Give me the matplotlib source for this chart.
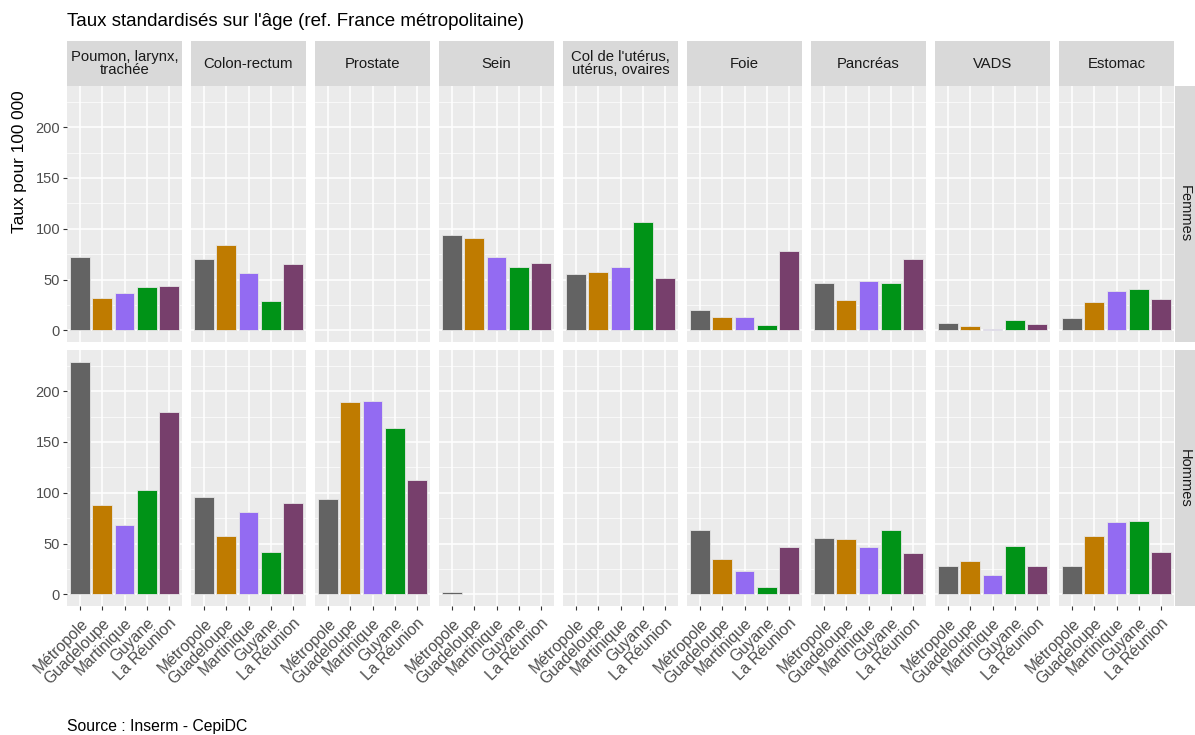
# Taux standardisés de mortalité par cancer, DOM vs métropole
# %% Imports
import numpy as np
from matplotlib import pyplot as plt

plt.rcParams['font.family'] = ['Liberation Sans', 'DejaVu Sans']

# %% Data
territoires = ["Métropole", "Guadeloupe", "Martinique", "Guyane", "La Réunion"]
couleurs = ["#636363", "#BF7B00", "#936BF2", "#009317", "#773F6C"]
cancers = ["Poumon, larynx,\ntrachée", "Colon-rectum", "Prostate", "Sein",
           "Col de l'utérus,\nutérus, ovaires", "Foie", "Pancréas", "VADS", "Estomac"]
sexes = ["Femmes", "Hommes"]
nan = np.nan
# one row per cancer, one value per territoire
femmes = [
    [72, 32, 37, 43, 44],
    [70, 84, 56, 29, 65],
    [nan, nan, nan, nan, nan],
    [94, 91, 72, 62, 66],
    [55, 57, 62, 107, 52],
    [20.5, 13, 13, 5.5, 78],
    [47, 30, 49, 47, 70.5],
    [7, 4.5, 1, 10.5, 6],
    [12, 27.5, 39, 40.5, 31],
]
hommes = [
    [229, 87.7, 68, 103, 179],
    [96, 57.4, 81.5, 42, 90],
    [93.7, 189.7, 190.7, 163.4, 113],
    [2, nan, nan, nan, nan],
    [nan, nan, nan, nan, nan],
    [63, 34.5, 22.5, 7.5, 47],
    [55, 54, 47, 63.4, 41],
    [27.7, 32.7, 19, 47.8, 27.7],
    [27.7, 57.4, 71, 72, 42],
]
titre = "Taux standardisés sur l'âge (ref. France métropolitaine)"
source = "Source : Inserm - CepiDC"
ylabel = "Taux pour 100 000"

# %% Layout (pixels)
W, H = 1195, 735
fig = plt.figure(figsize=(W / 100, H / 100), dpi=100)


def px_axes(x0, y0, w, h):
    return fig.add_axes([x0 / W, 1 - (y0 + h) / H, w / W, h / H])


left, pw, gap = 67, 115, 9
row_top = [86, 350]
ph = 256
strip_top, strip_h = 41, 45
vmax = np.nanmax(np.array(femmes + hommes))
ylim = (-0.05 * vmax, 1.05 * vmax)
x = np.arange(len(territoires))
data = [femmes, hommes]
txt_col = "#4D4D4D"

# %% Panels
for r, sexe in enumerate(sexes):
    for c, cancer in enumerate(cancers):
        x0 = left + c * (pw + gap)
        ax = px_axes(x0, row_top[r], pw, ph)
        ax.set_facecolor("#EBEBEB")
        vals = np.array(data[r][c], dtype=float)
        ax.bar(x, np.nan_to_num(vals), width=0.9, color=couleurs,
               edgecolor="#E6E6E6", linewidth=0.6, zorder=3)
        # hide empty bars
        for patch, v in zip(ax.patches, vals):
            if np.isnan(v):
                patch.set_visible(False)
        ax.set_xlim(-0.6, len(territoires) - 0.4)
        ax.set_ylim(*ylim)
        ax.set_yticks([0, 50, 100, 150, 200])
        ax.set_yticks([25, 75, 125, 175, 225], minor=True)
        ax.set_xticks(x)
        ax.grid(True, which="major", color="white", linewidth=1.1, zorder=0)
        ax.grid(True, which="minor", axis="y", color="white", linewidth=0.5, zorder=0)
        for s in ax.spines.values():
            s.set_visible(False)
        ax.tick_params(which="minor", length=0)
        ax.tick_params(which="major", length=3, color="#333333", width=0.8,
                       labelsize=10.5, labelcolor=txt_col, pad=2)
        if c == 0:
            ax.tick_params(axis="y", left=True, labelleft=True)
        else:
            ax.tick_params(axis="y", left=False, labelleft=False)
        if r == 1:
            ax.set_xticklabels(territoires, rotation=45, ha="right", va="top",
                               rotation_mode="anchor", fontsize=11.3)
            ax.tick_params(axis="x", pad=4)
        else:
            ax.tick_params(axis="x", bottom=False, labelbottom=False)
        # column strip
        if r == 0:
            sx = px_axes(x0, strip_top, pw, strip_h)
            sx.set_facecolor("#D9D9D9")
            sx.set_xticks([])
            sx.set_yticks([])
            for s in sx.spines.values():
                s.set_visible(False)
            sx.text(0.5, 0.5, cancer, ha="center", va="center", fontsize=10.7,
                    color="#1A1A1A", linespacing=0.9, transform=sx.transAxes)
    # row strip
    rx = px_axes(1175, row_top[r], 30, ph)
    rx.set_facecolor("#D9D9D9")
    rx.set_xticks([])
    rx.set_yticks([])
    for s in rx.spines.values():
        s.set_visible(False)
    rx.text(10 / 30, 0.5, sexe, rotation=-90, ha="center", va="center",
            fontsize=10.5, color="#1A1A1A", transform=rx.transAxes)

# %% Texts
fig.text(67 / W, 1 - 21 / H, titre, fontsize=13.5, color="black", va="center")
fig.text(20 / W, 1 - 162 / H, ylabel, rotation=90, fontsize=12.4,
         ha="center", va="center", color="black")
fig.text(67 / W, 1 - 727 / H, source, fontsize=11.3, color="black", va="center")

fig.savefig("out.png", dpi=100)
